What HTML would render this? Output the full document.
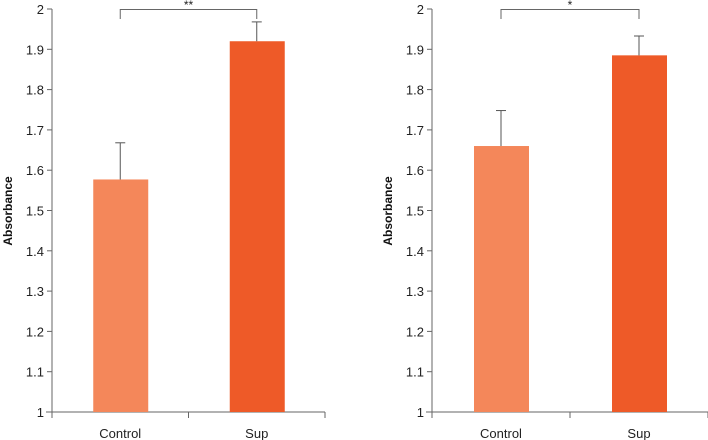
<!DOCTYPE html>
<html><head><meta charset="utf-8"><style>
body{margin:0;background:#fff;}
svg{display:block;font-family:"Liberation Sans",sans-serif;}
</style></head><body>
<svg id="c" width="708" height="440"></svg>
<script>
const categories=["Control","Sup"];
const leftValues=[1.577,1.920];
const leftErrors=[0.091,0.048];
const rightValues=[1.660,1.885];
const rightErrors=[0.088,0.048];
const sigLabels=["**","*"];
const yTicks=[1,1.1,1.2,1.3,1.4,1.5,1.6,1.7,1.8,1.9,2];
const colors=["#F4875A","#EE5A28"];
const ns="http://www.w3.org/2000/svg";
const svg=document.getElementById('c');
function mk(t,a,p){const e=document.createElementNS(ns,t);for(const k in a)e.setAttribute(k,a[k]);(p||svg).appendChild(e);return e;}
function y(v){return 412-(v-1)*403;}
function panel(ax,axEnd,vals,errs,sig,id){
  const g=mk('g',{});
  
  
  const w=(axEnd-ax)/categories.length;
  mk('line',{x1:ax,y1:y(2),x2:ax,y2:412,stroke:'#666','stroke-width':1},g);
  mk('line',{x1:ax-6,y1:412,x2:axEnd,y2:412,stroke:'#666','stroke-width':1},g);
  yTicks.forEach(t=>{
    mk('line',{x1:ax-5,y1:y(t),x2:ax,y2:y(t),stroke:'#666'},g);
    const tx=mk('text',{x:ax-8,y:y(t)+5,'text-anchor':'end','font-size':13,fill:'#222'},g);
    tx.textContent=String(t);
  });
  for(let i=0;i<=categories.length;i++){
    mk('line',{x1:ax+i*w,y1:412,x2:ax+i*w,y2:418,stroke:'#666'},g);
  }
  const cx=[];
  categories.forEach((c,i)=>{
    const x=ax+(i+0.5)*w; cx.push(x);
    const b=mk('rect',{x:x-27,y:y(vals[i]),width:55,height:412-y(vals[i]),fill:colors[i]},g);
    
    
    const top=y(vals[i]+errs[i]);
    mk('line',{x1:x,y1:y(vals[i]),x2:x,y2:top,stroke:'#555'},g);
    mk('line',{x1:x-5,y1:top,x2:x+5,y2:top,stroke:'#555'},g);
    const lb=mk('text',{x:x,y:438,'text-anchor':'middle','font-size':13,fill:'#222'},g);
    lb.textContent=c;
    
    
  });
  mk('polyline',{points:`${cx[0]},19 ${cx[0]},9.5 ${cx[1]},9.5 ${cx[1]},19`,fill:'none',stroke:'#666'},g);
  const s=mk('text',{x:(cx[0]+cx[1])/2,y:9,'text-anchor':'middle','font-size':12,fill:'#222'},g);
  s.textContent=sig;
  const yt=mk('text',{transform:`translate(${ax-40},211) rotate(-90)`,'text-anchor':'middle','font-size':12,'font-weight':'bold',fill:'#111'},g);
  yt.textContent='Absorbance';
  
  
}
panel(52,325,leftValues,leftErrors,sigLabels[0],'left-panel');
panel(432,708,rightValues,rightErrors,sigLabels[1],'right-panel');
</script>
</body></html>
